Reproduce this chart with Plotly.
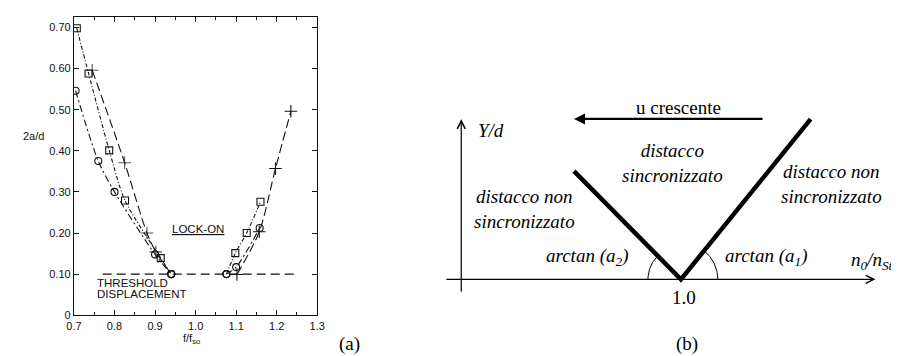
import numpy as np
import plotly.graph_objects as go

W, H = 899, 356

# ---------------- Panel (a) data ----------------
circ_left_x = [0.704, 0.760, 0.800, 0.900, 0.940]
circ_left_y = [0.546, 0.375, 0.300, 0.148, 0.100]
circ_right_x = [1.076, 1.100, 1.158]
circ_right_y = [0.100, 0.117, 0.212]

sq_left_x = [0.707, 0.736, 0.787, 0.826, 0.914, 0.940]
sq_left_y = [0.698, 0.588, 0.401, 0.279, 0.139, 0.100]
sq_right_x = [1.076, 1.098, 1.126, 1.160]
sq_right_y = [0.100, 0.151, 0.200, 0.276]

plus_left_x = [0.745, 0.825, 0.880, 0.902, 0.940]
plus_left_y = [0.596, 0.371, 0.200, 0.154, 0.100]
plus_right_x = [1.102, 1.157, 1.197, 1.235]
plus_right_y = [0.099, 0.203, 0.357, 0.496]

threshold_x = [0.771, 1.243]
threshold_y = [0.100, 0.100]

x_ticks = [0.7, 0.8, 0.9, 1.0, 1.1, 1.2, 1.3]
x_ticktext = ["0.7", "0.8", "0.9", "1.0", "1.1", "1.2", "1.3"]
x_minor = [0.75, 0.85, 0.95, 1.05, 1.15, 1.25]
y_ticks = [0.0, 0.1, 0.2, 0.3, 0.4, 0.5, 0.6, 0.7]
y_ticktext = ["0", "0.10", "0.20", "0.30", "0.40", "0.50", "0.60", "0.70"]

# ---------------- Panel (b) schematic data ----------------
v_x = [0.637, 1.0, 1.44]          # n0/nSt
v_y = [0.367, 0.0, 0.543]         # Y/d
haxis_x = [0.199, 1.66]
vaxis_x = 0.2544
vaxis_y = [-0.047, 0.543]
u_arrow_x = [1.282, 0.637]
u_arrow_y = 0.544
arc_r2 = 0.112
arc_r1 = 0.125
angle_a2 = 135.0
angle_a1 = 51.0

SANS = "Liberation Sans"
SERIF = "Liberation Serif"
INK = "#111"

fig = go.Figure()

def series(x, y, dash, symbols, size, mode="lines+markers"):
    fig.add_trace(go.Scatter(
        x=x, y=y, mode=mode, xaxis="x", yaxis="y",
        line=dict(color=INK, width=1.1, dash=dash, shape="spline", smoothing=0.8),
        marker=dict(symbol=symbols, size=size, color=INK,
                    line=dict(color=INK, width=1.1)),
        showlegend=False, hoverinfo="skip"))

series(threshold_x, threshold_y, "9px,5px", "circle", 1, mode="lines")
series(circ_left_x, circ_left_y, "7px,3px,2px,3px", "circle-open", 7)
series(circ_right_x, circ_right_y, "7px,3px,2px,3px", "circle-open", 7)
series(sq_left_x, sq_left_y, "4px,2px,1px,2px", ["square-open"] * 5 + ["circle-open"], 7)
series(sq_right_x, sq_right_y, "4px,2px,1px,2px", ["circle-open"] + ["square-open"] * 3, 7)
series(plus_left_x, plus_left_y, "9px,4px", ["cross-thin-open"] * 4 + ["circle-open"], [9, 9, 9, 9, 7])
series(plus_right_x, plus_right_y, "9px,4px", "cross-thin-open", 9)

# ---------------- Panel (b) traces ----------------
fig.add_trace(go.Scatter(x=v_x, y=v_y, mode="lines", xaxis="x2", yaxis="y2",
                         line=dict(color="black", width=4.5),
                         showlegend=False, hoverinfo="skip"))
th2 = np.radians(np.linspace(angle_a2, 180.0, 30))
fig.add_trace(go.Scatter(x=v_x[1] + arc_r2 * np.cos(th2), y=arc_r2 * np.sin(th2),
                         mode="lines", xaxis="x2", yaxis="y2",
                         line=dict(color="black", width=1),
                         showlegend=False, hoverinfo="skip"))
th1 = np.radians(np.linspace(0.0, angle_a1, 30))
fig.add_trace(go.Scatter(x=v_x[1] + arc_r1 * np.cos(th1), y=arc_r1 * np.sin(th1),
                         mode="lines", xaxis="x2", yaxis="y2",
                         line=dict(color="black", width=1),
                         showlegend=False, hoverinfo="skip"))

ann = []
ann.append(dict(x=haxis_x[1], y=0, ax=haxis_x[0], ay=0, xref="x2", yref="y2",
                axref="x2", ayref="y2", text="", showarrow=True, arrowhead=5,
                arrowsize=1.3, arrowwidth=1.2, arrowcolor="black", standoff=0))
ann.append(dict(x=vaxis_x, y=vaxis_y[1], ax=vaxis_x, ay=vaxis_y[0], xref="x2", yref="y2",
                axref="x2", ayref="y2", text="", showarrow=True, arrowhead=5,
                arrowsize=1.3, arrowwidth=1.2, arrowcolor="black", standoff=0))
ann.append(dict(x=u_arrow_x[1], y=u_arrow_y, ax=u_arrow_x[0], ay=u_arrow_y, xref="x2", yref="y2",
                axref="x2", ayref="y2", text="", showarrow=True, arrowhead=2,
                arrowsize=1.0, arrowwidth=2.2, arrowcolor="black", standoff=0))

def t2(x, y, text, xanchor="center", size=19):
    ann.append(dict(x=x, y=y, xref="x2", yref="y2", text=text, showarrow=False,
                    xanchor=xanchor, yanchor="middle",
                    font=dict(family=SERIF, size=size, color="black")))

t2(0.99, 0.583, "u crescente")
t2(0.305, 0.503, "<i>Y/d</i>", xanchor="left")
t2(0.97, 0.393, "<i>distacco<br>sincronizzato</i>")
t2(0.47, 0.24, "<i>distacco non<br>sincronizzato</i>")
t2(1.51, 0.322, "<i>distacco non<br>sincronizzato</i>")
t2(0.682, 0.076, "<i>arctan (a<sub>2</sub>)</i>")
t2(1.287, 0.076, "<i>arctan (a<sub>1</sub>)</i>")
t2(1.569, 0.062, "<i>n<sub>0</sub>/n<sub>St</sub></i>", xanchor="left")
t2(1.01, -0.063, "1.0")

ann.append(dict(x=340 / W, y=(H - 341.7) / H, xref="paper", yref="paper", text="(a)",
                showarrow=False, xanchor="center", yanchor="middle",
                font=dict(family=SERIF, size=19, color="black")))
ann.append(dict(x=683 / W, y=(H - 341.7) / H, xref="paper", yref="paper", text="(b)",
                showarrow=False, xanchor="center", yanchor="middle",
                font=dict(family=SERIF, size=19, color="black")))

def ta(x, y, text, xanchor="center", xref="x", yref="y", size=11.5):
    ann.append(dict(x=x, y=y, xref=xref, yref=yref, text=text, showarrow=False,
                    xanchor=xanchor, yanchor="middle",
                    font=dict(family=SANS, size=size, color=INK)))

ta(1.005, 0.209, "<u>LOCK-ON</u>")
ta(0.751, 0.079, "THRESHOLD", xanchor="left")
ta(0.751, 0.052, "DISPLACEMENT", xanchor="left")
ta(17.5 / W, 0.437, "2a/d", xref="paper", size=11)
ta(0.99, (H - 337) / H, "f/f<sub>so</sub>", yref="paper", size=11)

axis_common = dict(showline=True, linecolor=INK, linewidth=1.2, mirror="allticks",
                   ticks="inside", ticklen=5, tickwidth=1, tickcolor=INK,
                   showgrid=False, zeroline=False,
                   tickfont=dict(family=SANS, size=11, color=INK))

fig.update_layout(
    width=W, height=H,
    margin=dict(l=0, r=0, t=0, b=0),
    paper_bgcolor="white", plot_bgcolor="rgba(0,0,0,0)",
    xaxis=dict(domain=[59 / W, 306.7 / W], range=[0.7, 1.3], anchor="y",
               tickvals=x_ticks, ticktext=x_ticktext,
               minor=dict(tickvals=x_minor, ticks="inside", ticklen=3, tickcolor=INK),
               **axis_common),
    yaxis=dict(domain=[(H - 312.5) / H, (H - 9.3) / H], range=[0, 0.725], anchor="x",
               tickvals=y_ticks, ticktext=y_ticktext, **axis_common),
    xaxis2=dict(domain=[0, 1], range=[1 - 677 / 300, 1 + (W - 677) / 300], anchor="y2",
                visible=False),
    yaxis2=dict(domain=[0, 1], range=[-80 / 300, (H - 80) / 300], anchor="x2",
                visible=False),
    annotations=ann,
)

fig.write_html("out.html")
